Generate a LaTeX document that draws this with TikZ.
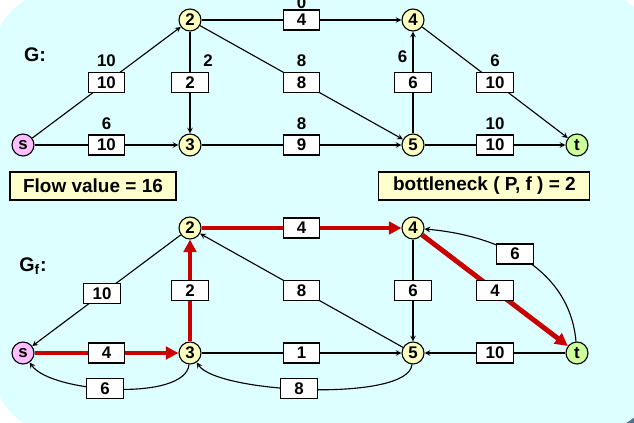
\documentclass[tikz,border=0pt]{standalone}
\usepackage{fontspec}
\setmainfont{Liberation Sans}
\usetikzlibrary{arrows.meta, positioning}
\definecolor{bgcyan}{RGB}{221,255,255}
\definecolor{shadowblue}{RGB}{85,115,145}
\definecolor{nodeyellow}{RGB}{255,255,190}
\definecolor{srcpink}{RGB}{255,190,255}
\definecolor{sinkgreen}{RGB}{204,255,153}
\definecolor{noteyellow}{RGB}{255,255,204}
\definecolor{augred}{RGB}{200,0,0}

\begin{document}
\begin{tikzpicture}[
        every node/.style={font=\bfseries\fontsize{12pt}{14pt}\selectfont},
        vertex/.style={draw=black, circle, fill=nodeyellow, minimum size=0.55cm, inner sep=0pt, line width=0.8pt},
        capbox/.style={draw=black, text=black, fill=white, minimum width=0.92cm, minimum height=0.5cm, inner sep=0pt, line width=0.8pt},
        arrow/.style={->, line width=0.8pt, >=stealth},
        augment/.style={-{Triangle[length=9pt, width=9pt]}, line width=3.5pt, augred},
        note/.style={draw, fill=noteyellow, minimum height=0.7cm, line width=0.8pt, font=\bfseries\fontsize{13.5pt}{16pt}\selectfont},
        title/.style={font=\bfseries\fontsize{14pt}{16pt}\selectfont}
    ]
        \useasboundingbox (0,0) rectangle (15.85,10.575);
        \fill[shadowblue] (15.3,0) rectangle (15.85,0.5);
        \fill[bgcyan, rounded corners=1.5cm] (-0.15,-0.2) rectangle (16.4,10.75);

        % Flow network G
        \node[title] (glabel) at (0.875,9.2) {G:};
        \node[vertex, fill=srcpink] (s) at (0.575,6.95) {s};
        \node[vertex] (n2) at (4.75,10.075) {2};
        \node[vertex] (n3) at (4.75,6.95) {3};
        \node[vertex] (n4) at (10.325,10.075) {4};
        \node[vertex] (n5) at (10.325,6.95) {5};
        \node[vertex, fill=sinkgreen] (t) at (14.425,6.95) {t};

        \draw[arrow] (s) -- node[capbox, label=above:10] {10} (n2);
        \draw[arrow] (s) -- node[capbox, label=above:6] {10} (n3);
        \draw[arrow] (n2) -- node[capbox, label={[xshift=0.45cm]above:2}] {2} (n3);
        \draw[arrow] (n2) -- node[capbox, label={[yshift=-0.1cm]above:0}] {4} (n4);
        \draw[arrow] (n2) -- node[capbox, label=above:8] {8} (n5);
        \draw[arrow] (n3) -- node[capbox, label=above:8] {9} (n5);
        \draw[arrow] (n5) -- node[capbox, label={[xshift=-0.26cm, yshift=0.1cm]above:6}] {6} (n4);
        \draw[arrow] (n4) -- node[capbox, label=above:6] {10} (t);
        \draw[arrow] (n5) -- node[capbox, label=above:10] {10} (t);

        % Notes
        \node[note, minimum width=4.15cm] (flowval) at (2.325,5.925) {Flow value = 16};
        \node[note, minimum width=5.275cm] (bneck) at (12.11,5.925) {bottleneck ( P, f ) = 2};

        % Residual graph G_f
        \node[title] (gflabel) at (0.825,3.925) {G\textsubscript{f}:};
        \node[vertex, fill=srcpink] (rs) at (0.575,1.75) {s};
        \node[vertex] (r2) at (4.75,4.875) {2};
        \node[vertex] (r3) at (4.75,1.75) {3};
        \node[vertex] (r4) at (10.325,4.875) {4};
        \node[vertex] (r5) at (10.325,1.75) {5};
        \node[vertex, fill=sinkgreen] (rt) at (14.425,1.75) {t};

        % Augmenting path
        \draw[augment] (rs) -- node[capbox] {4} (r3);
        \draw[augment] (r3) -- node[capbox] {2} (r2);
        \draw[augment] (r2) -- node[capbox] {4} (r4);
        \draw[augment] (r4) -- node[capbox] {4} (rt);

        \draw[arrow] (r2) -- node[capbox, pos=0.53] {10} (rs);
        \draw[arrow] (r5) -- node[capbox] {8} (r2);
        \draw[arrow] (r3) -- node[capbox] {1} (r5);
        \draw[arrow] (r4) -- node[capbox] {6} (r5);
        \draw[arrow] (rt) -- node[capbox] {10} (r5);
        \draw[arrow] (r3) to[out=-95, in=-55, looseness=0.6] node[capbox, pos=0.55] {6} (rs);
        \draw[arrow] (r5) to[out=-95, in=-55, looseness=0.45] node[capbox, pos=0.54] {8} (r3);
        \draw[arrow] (rt) to[out=95, in=-5] node[capbox, pos=0.56] {6} (r4);
    \end{tikzpicture}
\end{document}
